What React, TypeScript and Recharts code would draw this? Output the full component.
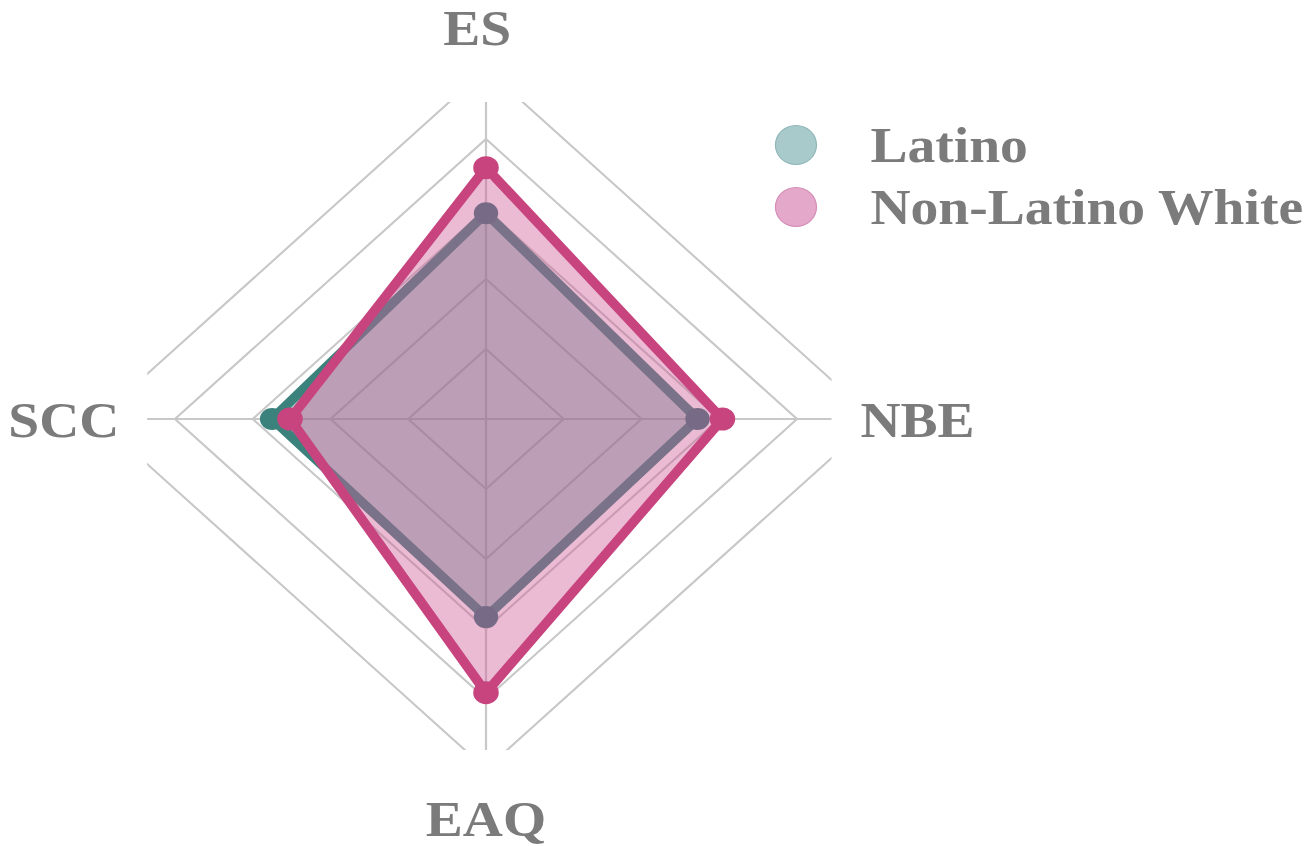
import { RadarChart, Radar, PolarGrid, PolarAngleAxis, PolarRadiusAxis, Legend } from "recharts";

// axes, clockwise from the top
const axes = ["ES", "NBE", "EAQ", "SCC"];
const latino = [2.94, 2.72, 2.83, 2.75];
const nonLatinoWhite = [3.59, 3.04, 3.91, 2.52];
const radiusTicks = [0, 1, 2, 3, 4, 5];

const data = axes.map((a, i) => ({ axis: a, latino: latino[i], nlw: nonLatinoWhite[i] }));

const W = 1316;
const H = 846;
const CX = 486;
const CY = 419;
const STRETCH = 1.111; // source picture is wider than tall

const TEXT = "#7b7b7b";
const FONT = "'Liberation Serif', 'Times New Roman', serif";

const TEAL = "#3c827c";
const TEAL_FILL = "#3f8c86";
const TEAL_UNDER_PINK = "#766a86"; // how a teal dot reads beneath the pink fill
const PINK = "#c8447f";
const PINK_FILL = "#cf5c98";

const LABEL_POS: Record<string, { dx: number; dy: number; anchor: "start" | "middle" | "end" }> = {
  ES: { dx: -8, dy: -16, anchor: "middle" },
  NBE: { dx: -21, dy: 18, anchor: "start" },
  EAQ: { dx: 0, dy: 59, anchor: "middle" },
  SCC: { dx: 28, dy: 18, anchor: "end" },
};

function AxisTick(props: any) {
  const { x, y, payload } = props;
  const p = LABEL_POS[payload.value] ?? { dx: 0, dy: 0, anchor: "middle" };
  return (
    <text
      x={x + p.dx}
      y={y + p.dy}
      textAnchor={p.anchor}
      fill={TEXT}
      fontSize={50}
      fontWeight={700}
      fontFamily={FONT}
    >
      {payload.value}
    </text>
  );
}

// Latino dots sit under the pink area wherever the other group scores higher
function LatinoDot(props: any) {
  const { cx, cy, payload, index } = props;
  const covered = payload && payload.nlw > payload.latino;
  return <circle key={index} cx={cx} cy={cy} r={11} fill={covered ? TEAL_UNDER_PINK : TEAL} />;
}

const legendItems = [
  { name: "Latino", fill: "#a9cacb", border: "#8fb6b7" },
  { name: "Non-Latino White", fill: "#e3a8ca", border: "#d58bb5" },
];

function LegendBox() {
  return (
    <div>
      {legendItems.map((it) => (
        <div key={it.name} style={{ display: "flex", alignItems: "center", height: 62 }}>
          <span
            style={{
              width: 38,
              height: 40,
              borderRadius: "50%",
              background: it.fill,
              border: `1px solid ${it.border}`,
              marginRight: 48,
              boxSizing: "border-box",
            }}
          />
          <span style={{ fontFamily: FONT, fontWeight: 700, fontSize: 50, color: TEXT, lineHeight: "50px" }}>
            {it.name}
          </span>
        </div>
      ))}
    </div>
  );
}

export default function App() {
  return (
    <div style={{ position: "absolute", left: 0, top: 0, width: W, height: H, background: "#fff", overflow: "hidden" }}>
      <svg width={0} height={0} style={{ position: "absolute" }}>
        <defs>
          <clipPath id="gridClip" clipPathUnits="userSpaceOnUse">
            <rect x={181} y={102} width={616} height={648} />
          </clipPath>
        </defs>
      </svg>
      <div style={{ transform: `scaleX(${STRETCH})`, transformOrigin: `${CX}px 0px`, width: W, height: H }}>
        <RadarChart
          width={W}
          height={H}
          data={data}
          cx={CX}
          cy={CY}
          outerRadius={350}
          margin={{ top: 0, right: 0, bottom: 0, left: 0 }}
        >
          <PolarGrid stroke="#c8c8c8" strokeWidth={2} clipPath="url(#gridClip)" />
          <PolarAngleAxis dataKey="axis" tick={AxisTick} tickLine={false} axisLine={false} />
          <PolarRadiusAxis domain={[0, 5]} ticks={radiusTicks as any} tickCount={6} tick={false} axisLine={false} />
          <Radar
            name="Latino"
            dataKey="latino"
            stroke={TEAL}
            strokeWidth={9}
            fill={TEAL_FILL}
            fillOpacity={0.42}
            dot={LatinoDot}
            isAnimationActive={false}
          />
          <Radar
            name="Non-Latino White"
            dataKey="nlw"
            stroke={PINK}
            strokeWidth={9}
            fill={PINK_FILL}
            fillOpacity={0.42}
            dot={{ r: 11.5, fill: PINK, stroke: "none", fillOpacity: 1 }}
            isAnimationActive={false}
          />
          <Legend
            content={<LegendBox />}
            wrapperStyle={{ position: "absolute", left: 746, top: 114, width: "auto" }}
          />
        </RadarChart>
      </div>
    </div>
  );
}
